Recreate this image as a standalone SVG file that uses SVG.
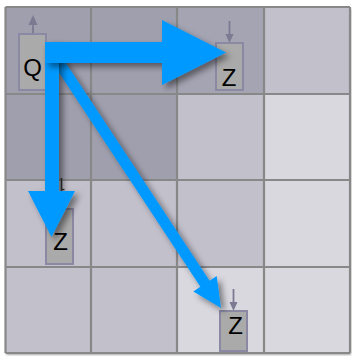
<svg xmlns="http://www.w3.org/2000/svg" width="352" height="356" viewBox="0 0 352 356">
  <defs>
    <style>
      .dark { fill: #a09fae; }
      .mid { fill: #c1c0cb; }
      .light { fill: #d9d8df; }
      .grid { stroke: #888888; stroke-width: 2.2; fill: none; }
      .box { fill: #aaaaaa; stroke: #8a88a2; stroke-width: 2; }
      .lbl { font-family: "Liberation Sans", Arial, sans-serif; font-size: 24px; fill: #000000; text-anchor: middle; }
      .tick { stroke: #7c7a92; stroke-width: 1.8; fill: none; }
      .tickhead { fill: #7c7a92; }
      .arrow { fill: #0099ff; filter: url(#shadow); }
    </style>
    <filter id="shadow" x="-20%" y="-20%" width="150%" height="150%">
      <feDropShadow dx="4" dy="4" stdDeviation="3" flood-color="#000000" flood-opacity="0.45"/>
    </filter>
    <filter id="boardshadow" x="-5%" y="-5%" width="110%" height="110%">
      <feDropShadow dx="1" dy="2" stdDeviation="1.2" flood-color="#000000" flood-opacity="0.35"/>
    </filter>
  </defs>

  <g id="board">
    <rect x="5.5" y="7" width="344.5" height="346" fill="#c1c0cb" filter="url(#boardshadow)"/>
    <rect class="dark" x="5.5" y="7" width="85.5" height="87"/>
    <rect class="dark" x="91" y="7" width="86" height="87"/>
    <rect class="dark" x="177" y="7" width="87" height="87" style="fill:#a5a4b2"/>
    <rect class="mid" x="264" y="7" width="86" height="87"/>
    <rect class="dark" x="5.5" y="94" width="85.5" height="86"/>
    <rect class="dark" x="91" y="94" width="86" height="86"/>
    <rect class="mid" x="177" y="94" width="87" height="86"/>
    <rect class="light" x="264" y="94" width="86" height="86"/>
    <rect class="mid" x="5.5" y="180" width="85.5" height="87"/>
    <rect class="mid" x="91" y="180" width="86" height="87"/>
    <rect class="mid" x="177" y="180" width="87" height="87"/>
    <rect class="light" x="264" y="180" width="86" height="87"/>
    <rect class="mid" x="5.5" y="267" width="85.5" height="86"/>
    <rect class="mid" x="91" y="267" width="86" height="86"/>
    <rect class="light" x="177" y="267" width="87" height="86"/>
    <rect class="light" x="264" y="267" width="86" height="86"/>
    <path class="grid" d="M5.5 7V353M91 7V353M177 7V353M264 7V353M350 7V353M5.5 7H350M5.5 94H350M5.5 180H350M5.5 267H350M5.5 353H350"/>
  </g>

  <g id="node-q">
    <line class="tick" x1="33" y1="34" x2="33" y2="22"/>
    <polygon class="tickhead" points="33,15 28.5,25 37.5,25"/>
    <rect class="box" x="19" y="34" width="27" height="56"/>
    <text class="lbl" x="32.5" y="76">Q</text>
  </g>

  <g id="node-z-top">
    <line class="tick" x1="229.5" y1="21" x2="229.5" y2="37"/>
    <polygon class="tickhead" points="229.5,43 225.5,34 233.5,34"/>
    <rect class="box" x="216" y="43" width="27" height="47"/>
    <text class="lbl" x="229" y="86">Z</text>
  </g>

  <g id="node-z-left">
    <line x1="61.5" y1="178" x2="61.5" y2="209" stroke="#333333" stroke-width="1.6"/>
    <line x1="61.5" y1="189.5" x2="64.5" y2="189.5" stroke="#333333" stroke-width="1.4"/>
    <rect class="box" x="46" y="209" width="27" height="55"/>
    <text class="lbl" x="60.5" y="249.5">Z</text>
  </g>

  <g id="node-z-bottom">
    <line class="tick" x1="233.5" y1="289" x2="233.5" y2="305"/>
    <polygon class="tickhead" points="233.5,311 229.5,302 237.5,302"/>
    <rect class="box" x="220" y="311" width="27" height="40"/>
    <text class="lbl" x="235.5" y="333.5">Z</text>
  </g>

  <g id="connectors">
    <polygon class="arrow" points="56.6,49 209.6,280.8 216.7,276.1 221,308 193.3,291.5 200.4,286.8 47.4,55"/>
    <polygon class="arrow" points="45,42 59,42 59,191 75,191 51.5,237 28,191 45,191"/>
    <polygon class="arrow" points="45,42 162,42 162,20 226,52.5 162,85 162,63 45,63"/>
  </g>
</svg>
